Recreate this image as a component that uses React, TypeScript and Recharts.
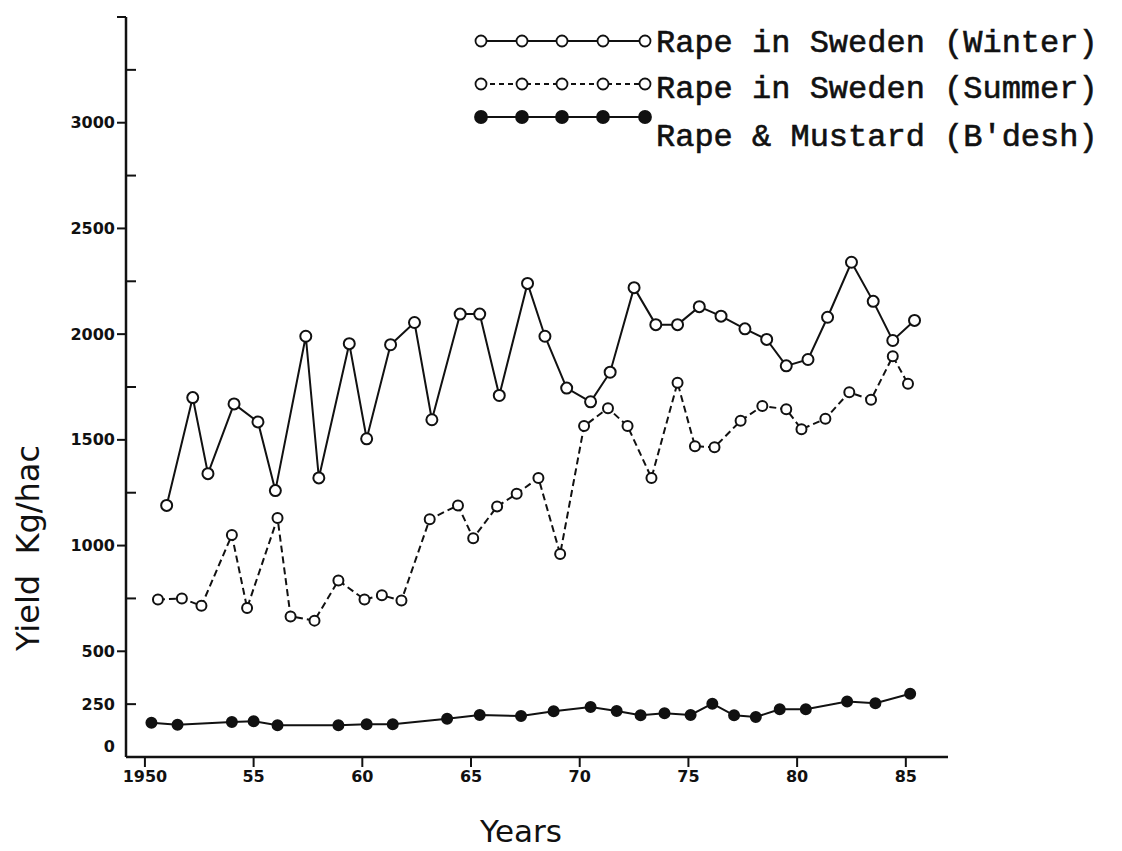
import { LineChart, Line, XAxis, YAxis, Label } from 'recharts';

// yields in kg/ha, year positions
const winterYears = [
  1951.0, 1952.2, 1952.9, 1954.1, 1955.2, 1956.0, 1957.4, 1958.0, 1959.4, 1960.2,
  1961.3, 1962.4, 1963.2, 1964.5, 1965.4, 1966.3, 1967.6, 1968.4, 1969.4, 1970.5,
  1971.4, 1972.5, 1973.5, 1974.5, 1975.5, 1976.5, 1977.6, 1978.6, 1979.5, 1980.5,
  1981.4, 1982.5, 1983.5, 1984.4, 1985.4,
];
const winterYield = [
  1190, 1700, 1340, 1670, 1585, 1260, 1990, 1320, 1955, 1505,
  1950, 2055, 1595, 2095, 2095, 1710, 2240, 1990, 1745, 1680,
  1820, 2220, 2045, 2045, 2130, 2085, 2025, 1975, 1850, 1880,
  2080, 2340, 2155, 1970, 2065,
];

const summerYears = [
  1950.6, 1951.7, 1952.6, 1954.0, 1954.7, 1956.1, 1956.7, 1957.8, 1958.9, 1960.1,
  1960.9, 1961.8, 1963.1, 1964.4, 1965.1, 1966.2, 1967.1, 1968.1, 1969.1, 1970.2,
  1971.3, 1972.2, 1973.3, 1974.5, 1975.3, 1976.2, 1977.4, 1978.4, 1979.5, 1980.2,
  1981.3, 1982.4, 1983.4, 1984.4, 1985.1,
];
const summerYield = [
  745, 750, 715, 1050, 705, 1130, 665, 645, 835, 745,
  765, 740, 1125, 1190, 1035, 1185, 1245, 1320, 960, 1565,
  1650, 1565, 1320, 1770, 1470, 1465, 1590, 1660, 1645, 1550,
  1600, 1725, 1690, 1895, 1765,
];

const bdeshYears = [
  1950.3, 1951.5, 1954.0, 1955.0, 1956.1, 1958.9, 1960.2, 1961.4, 1963.9, 1965.4,
  1967.3, 1968.8, 1970.5, 1971.7, 1972.8, 1973.9, 1975.1, 1976.1, 1977.1, 1978.1,
  1979.2, 1980.4, 1982.3, 1983.6, 1985.2,
];
const bdeshYield = [
  162, 153, 166, 169, 150, 150, 155, 155, 181, 199,
  194, 216, 236, 218, 197, 207, 199, 252, 197, 189,
  226, 226, 262, 254, 299,
];

const xTicks = [1950, 1955, 1960, 1965, 1970, 1975, 1980, 1985];
const yTicks = [0, 250, 500, 750, 1000, 1250, 1500, 1750, 2000, 2250, 2500, 2750, 3000, 3250, 3500];
const yLabelled = [0, 250, 500, 1000, 1500, 2000, 2500, 3000];

const INK = '#111';

const toRows = (xs: number[], ys: number[]) => xs.map((year, i) => ({ year, y: ys[i] }));

const series = [
  { key: 'winter', name: 'Rape in Sweden (Winter)', data: toRows(winterYears, winterYield), dash: undefined, filled: false, r: 5.5 },
  { key: 'summer', name: 'Rape in Sweden (Summer)', data: toRows(summerYears, summerYield), dash: '7 4', filled: false, r: 5 },
  { key: 'bdesh', name: "Rape & Mustard (B'desh)", data: toRows(bdeshYears, bdeshYield), dash: undefined, filled: true, r: 5 },
];

function YTick({ x, y, payload }: any) {
  const v = payload.value;
  const inside = v === 250 || v % 500 !== 0;
  return (
    <g>
      {v !== 0 && (
        <line
          x1={x}
          x2={inside ? x + 10 : x - 9}
          y1={y}
          y2={y}
          stroke={INK}
          strokeWidth={2}
        />
      )}
      {yLabelled.includes(v) && (
        <text
          x={x - 11}
          y={v === 0 ? y - 11 : y}
          textAnchor="end"
          dominantBaseline="central"
          fontFamily="DejaVu Sans"
          fontWeight="bold"
          fontSize={16}
          fill={INK}
        >
          {v}
        </text>
      )}
    </g>
  );
}

function LegendBox() {
  const markerX = [11, 52, 92, 133, 175];
  const lineY = [21, 64, 97];
  const textY = [23, 69, 117];
  return (
    <svg width={650} height={150} style={{ position: 'absolute', left: 470, top: 20 }}>
      {series.map((s, i) => (
        <g key={s.key}>
          <line
            x1={markerX[0]}
            x2={markerX[4]}
            y1={lineY[i]}
            y2={lineY[i]}
            stroke={INK}
            strokeWidth={1.8}
            strokeDasharray={s.dash ? '5 4' : undefined}
          />
          {markerX.map((mx) => (
            <circle
              key={mx}
              cx={mx}
              cy={lineY[i]}
              r={s.filled ? 6 : 5.5}
              fill={s.filled ? INK : '#fff'}
              stroke={INK}
              strokeWidth={1.8}
            />
          ))}
          <text
            x={186}
            y={textY[i]}
            dominantBaseline="central"
            fontFamily="Liberation Mono"
            fontSize={32}
            fill={INK}
            stroke={INK}
            strokeWidth={0.6}
          >
            {s.name}
          </text>
        </g>
      ))}
    </svg>
  );
}

export default function App() {
  return (
    <div style={{ position: 'absolute', left: 0, top: 0, width: 1122, height: 851, background: '#fff' }}>
      <LineChart width={1122} height={851} margin={{ top: 17, right: 174, bottom: 54, left: 66 }}>
        <XAxis
          type="number"
          dataKey="year"
          domain={[1949.13, 1986.94]}
          allowDataOverflow
          ticks={xTicks}
          interval={0}
          tickFormatter={(v) => (v === 1950 ? '1950' : String(v).slice(2))}
          tickSize={10}
          tickMargin={4}
          height={40}
          axisLine={{ stroke: INK, strokeWidth: 2.5 }}
          tickLine={{ stroke: INK, strokeWidth: 2 }}
          tick={{ fontSize: 16, fontWeight: 'bold', fill: INK, fontFamily: 'DejaVu Sans' }}
        >
          <Label
            content={({ viewBox }: any) => (
              <text
                x={viewBox.x + 395}
                y={viewBox.y + 74}
                textAnchor="middle"
                dominantBaseline="central"
                fontFamily="DejaVu Sans"
                fontSize={31}
                fill={INK}
              >
                Years
              </text>
            )}
          />
        </XAxis>
        <YAxis
          type="number"
          domain={[0, 3500]}
          ticks={yTicks}
          interval={0}
          width={60}
          tickSize={0}
          tickMargin={0}
          tickLine={false}
          axisLine={{ stroke: INK, strokeWidth: 2.5 }}
          tick={<YTick />}
        >
          <Label
            content={({ viewBox }: any) => {
              const cx = viewBox.x - 38;
              const cy = viewBox.y + 531;
              return (
                <text
                  x={cx}
                  y={cy}
                  transform={`rotate(-90 ${cx} ${cy})`}
                  textAnchor="middle"
                  dominantBaseline="central"
                  fontFamily="DejaVu Sans"
                  fontSize={32}
                  fill={INK}
                  style={{ whiteSpace: 'pre' }}
                >
                  {'Yield  Kg/hac'}
                </text>
              );
            }}
          />
        </YAxis>
        {series.map((s) => (
          <Line
            key={s.key}
            data={s.data}
            dataKey="y"
            name={s.name}
            type="linear"
            stroke={INK}
            strokeWidth={2}
            strokeDasharray={s.dash}
            dot={{
              r: s.r,
              fill: s.filled ? INK : '#fff',
              stroke: INK,
              strokeWidth: 2,
              strokeDasharray: 'none',
            }}
            activeDot={false}
            isAnimationActive={false}
          />
        ))}
      </LineChart>
      <LegendBox />
    </div>
  );
}
